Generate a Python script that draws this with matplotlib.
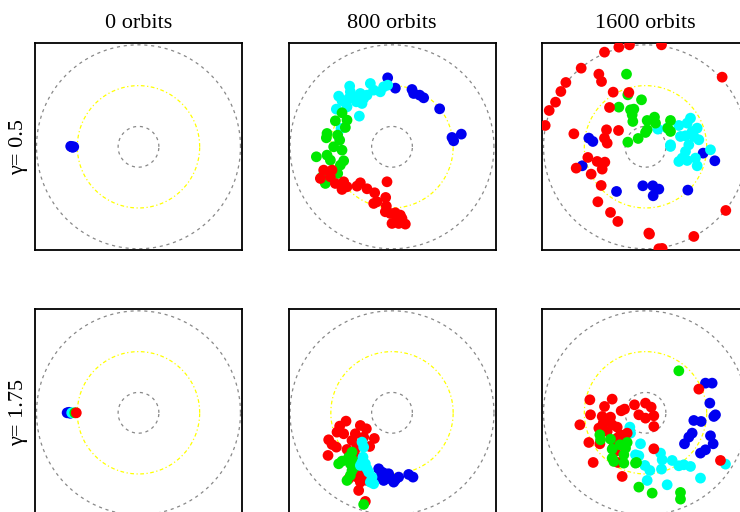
import numpy as np
import matplotlib
matplotlib.use("Agg")
import matplotlib.pyplot as plt

titles = ["0 orbits", "800 orbits", "1600 orbits"]
row_labels = ["γ= 0.5", "γ= 1.75"]
colors = {"blue": "#0000f0", "cyan": "#00ffff", "green": "#00e800", "red": "#ff0000"}

# point positions, in data units (outer circle radius = 1)
p00_blue_x = [-0.665, -0.645, -0.655, -0.635]
p00_blue_y = [0.005, -0.005, 0.0, 0.0]
p00_cyan_x = [-0.65]
p00_cyan_y = [0.0]

p10_blue_x = [-0.70, -0.68, -0.67]
p10_blue_y = [0.0, 0.005, -0.005]
p10_cyan_x = [-0.655]
p10_cyan_y = [0.0]
p10_green_x = [-0.625]
p10_green_y = [0.0]
p10_red_x = [-0.61]
p10_red_y = [0.0]

# panel (row 0, col 1): zoom coords (zx, zy), centre (335, 350), 306 per unit
p01_blue = [(322,143),(345,174),(395,178),(400,190),(418,195),(430,203),(478,236),(515,322),(520,332),(543,312)]
p01_cyan = [(208,168),(270,160),(175,198),(185,212),(210,185),(220,200),(240,190),(250,205),(228,215),(200,230),
            (245,220),(260,195),(280,180),(300,185),(310,170),(322,165),(168,237),(237,258),(182,295),(205,205)]
p01_green = [(185,248),(165,272),(200,270),(195,292),(140,310),(138,323),(172,315),(178,330),(160,350),(185,360),
             (108,380),(140,375),(150,390),(190,392),(180,405),(125,440),(135,460),(172,430)]
p01_red = [(130,420),(155,420),(120,445),(150,440),(165,460),(190,455),(185,478),(200,470),(230,468),(240,458),
           (260,476),(283,488),(320,455),(316,502),(290,515),(280,520),(318,528),(315,545),(330,550),(345,548),
           (360,555),(335,580),(355,580),(375,582),(350,570),(365,565)]

# panel (row 0, col 2): centre (345, 351)
p02_red = [(297,45),(265,52),(222,67),(393,45),(152,115),(205,133),(213,155),(106,158),(91,185),(75,217),(56,242),
           (44,287),(248,187),(295,188),(237,233),(575,142),(228,300),(264,302),(130,312),(222,325),(230,340),
           (172,383),(200,395),(223,397),(137,415),(215,418),(182,433),(212,467),(202,516),(240,548),(262,575),
           (357,613),(490,620),(586,542),(385,657),(395,656),(355,610)]
p02_green = [(288,133),(292,195),(333,210),(265,232),(300,240),(310,238),(305,255),(307,275),(350,272),(372,262),
             (375,280),(350,300),(345,308),(420,272),(412,295),(420,305),(323,326),(292,337)]
p02_cyan = [(480,265),(470,280),(445,287),(500,295),(485,305),(382,298),(410,295),(450,320),(465,318),(490,320),
            (505,330),(475,345),(420,345),(420,350),(540,360),(465,365),(455,385),(445,395),(470,392),(495,385),(500,408)]
p02_blue = [(175,325),(187,335),(155,408),(518,370),(553,393),(258,485),(337,468),(367,468),(385,478),(368,498),(472,481)]

# panel (row 1, col 1): centre (335, 337)
p11_red = [(197,362),(178,377),(170,395),(190,400),(240,375),(258,385),(225,400),(250,410),(145,418),(155,432),
           (168,440),(215,420),(282,414),(268,438),(200,447),(143,465),(230,440),(230,470),(245,475),(228,490),
           (240,505),(225,520),(250,520),(230,530),(205,535),(240,545),(260,540),(235,570),(255,603)]
p11_green = [(215,455),(205,470),(175,490),(185,482),(210,490),(215,510),(210,525),(200,540),(250,612),(222,500),(218,480)]
p11_cyan = [(245,425),(250,440),(245,485),(255,490),(240,495),(260,505),(265,515),(275,530),(270,545),(280,550),(248,470)]
p11_blue = [(295,505),(305,515),(315,520),(325,520),(300,530),(310,540),(330,535),(345,538),(355,530),(340,545),(385,522),(398,530)]

# panel (row 1, col 2): centre (345, 339)
p12_red = [(178,300),(245,298),(222,320),(180,345),(272,333),(282,328),(312,315),(345,310),(362,322),(370,348),
           (325,345),(345,355),(370,380),(148,375),(215,350),(240,352),(218,370),(245,375),(260,382),(205,385),
           (230,395),(270,405),(290,400),(260,415),(175,428),(208,432),(280,425),(250,440),(255,455),(370,447),
           (188,488),(262,488),(275,530),(505,268),(570,482)]
p12_green = [(445,213),(208,405),(240,418),(210,420),(268,435),(290,428),(285,445),(245,448),(280,465),(245,475),
             (250,485),(280,490),(315,490),(318,488),(325,562),(365,580),(450,578),(450,598)]
p12_cyan = [(298,382),(300,400),(330,432),(315,465),(325,468),(390,460),(395,480),(425,482),(445,498),(460,495),
            (480,500),(343,497),(358,512),(393,508),(350,542),(410,555),(510,535),(585,493)]
p12_blue = [(525,250),(545,250),(538,310),(550,350),(555,345),(490,362),(512,365),(485,400),(475,412),(462,432),
            (540,408),(548,432),(510,460),(525,450)]

SCALE = 306.0


def conv(pts, cx, cy):
    a = np.array(pts, dtype=float)
    return (a[:, 0] - cx) / SCALE, (cy - a[:, 1]) / SCALE


panels = {
    (0, 0): [("cyan", p00_cyan_x, p00_cyan_y), ("blue", p00_blue_x, p00_blue_y)],
    (1, 0): [("blue", p10_blue_x, p10_blue_y), ("cyan", p10_cyan_x, p10_cyan_y),
             ("green", p10_green_x, p10_green_y), ("red", p10_red_x, p10_red_y)],
    (0, 1): [(c,) + conv(p, 335, 350) for c, p in [("blue", p01_blue), ("cyan", p01_cyan), ("green", p01_green), ("red", p01_red)]],
    (0, 2): [(c,) + conv(p, 345, 351) for c, p in [("blue", p02_blue), ("cyan", p02_cyan), ("green", p02_green), ("red", p02_red)]],
    (1, 1): [(c,) + conv(p, 335, 337) for c, p in [("blue", p11_blue), ("red", p11_red), ("green", p11_green), ("cyan", p11_cyan)]],
    (1, 2): [(c,) + conv(p, 345, 339) for c, p in [("blue", p12_blue), ("cyan", p12_cyan), ("red", p12_red), ("green", p12_green)]],
}

W, H = 740, 512
fig = plt.figure(figsize=(W / 100, H / 100), dpi=100)
plt.rcParams['font.family'] = ['Liberation Serif', 'DejaVu Serif']

lefts = [35, 288.5, 542]
tops = [43.3, 309.3]
size = 207
lim = 1.015
theta = np.linspace(0, 2 * np.pi, 400)

for r in range(2):
    for c in range(3):
        ax = fig.add_axes([lefts[c] / W, (H - tops[r] - size) / H, size / W, size / H])
        ax.set_xlim(-lim, lim)
        ax.set_ylim(-lim, lim)
        ax.set_xticks([])
        ax.set_yticks([])
        for s in ax.spines.values():
            s.set_linewidth(1.3)
        ax.plot(np.cos(theta), np.sin(theta), color="#888888", lw=0.9, ls=(0, (2.5, 3)))
        ax.plot(0.6 * np.cos(theta), 0.6 * np.sin(theta), color="#ffff00", lw=0.9, ls=(0, (3, 2, 1, 2)))
        ax.plot(0.2 * np.cos(theta), 0.2 * np.sin(theta), color="#888888", lw=0.9, ls=(0, (2.5, 3)))
        for col, xs, ys in panels[(r, c)]:
            ax.scatter(xs, ys, s=60, color=colors[col], edgecolors="none", zorder=3)
        if r == 0:
            ax.set_title(titles[c], fontsize=16, pad=11)
        if c == 0:
            ax.set_ylabel(row_labels[r], fontsize=16, labelpad=5)

fig.savefig("out.png", dpi=100)
